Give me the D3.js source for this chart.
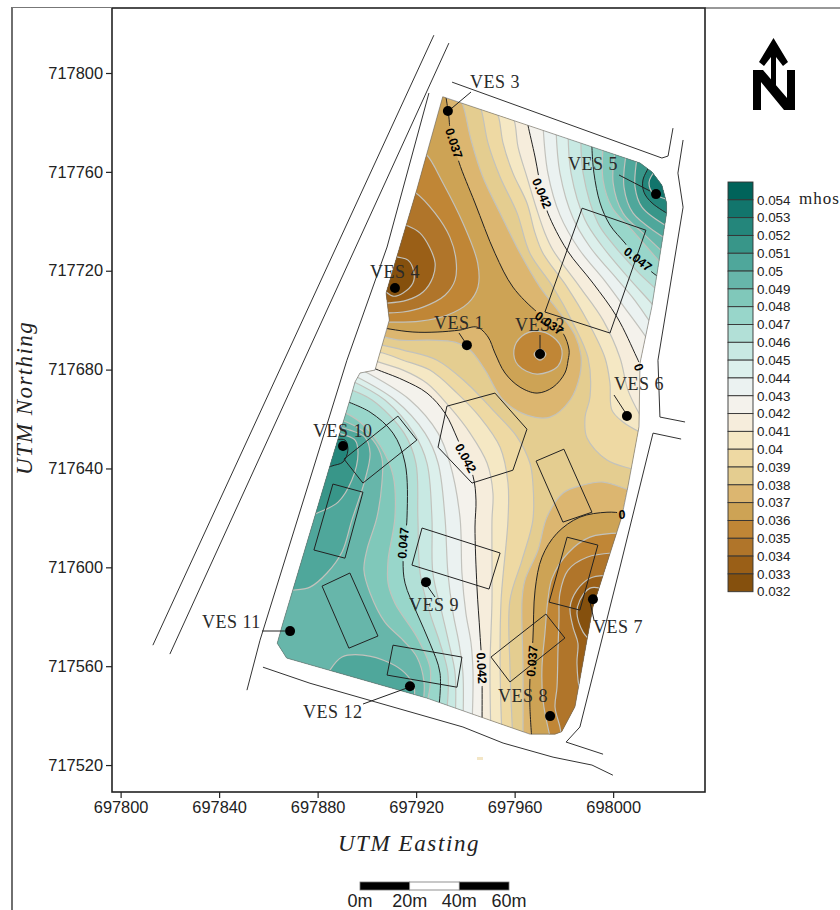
<!DOCTYPE html>
<html>
<head>
<meta charset="utf-8">
<script src="https://cdnjs.cloudflare.com/ajax/libs/d3/7.8.5/d3.min.js"></script>
<style>
  body { margin: 0; background: white; overflow: hidden; }
  svg { display: block; }
  .sans { font-family: "Liberation Sans", Arial, sans-serif; }
  .serif { font-family: "Liberation Serif", serif; }
</style>
</head>
<body>
<div id="chart"></div>
<script>
// all survey points below are metres east / north of these two origins
var E0 = 697800, N0 = 717500;

var xTicks = [697800, 697840, 697880, 697920, 697960, 698000];
var yTicks = [717800, 717760, 717720, 717680, 717640, 717600, 717560, 717520];

// legend, top to bottom
var legendValues = [0.054, 0.053, 0.052, 0.051, 0.05, 0.049, 0.048, 0.047, 0.046, 0.045, 0.044, 0.043,
  0.042, 0.041, 0.04, 0.039, 0.038, 0.037, 0.036, 0.035, 0.034, 0.033, 0.032];
var legendColors = ["#00635a", "#12756c", "#24867b", "#389689", "#4fa79b", "#67b6aa", "#80c8ba", "#98d6ca",
  "#b2e0d7", "#c8e9e3", "#dcf0ec", "#ebf2f1", "#f4f2ec", "#f6eddc", "#f5e8c4", "#eed9a3", "#e4cd90",
  "#dcb670", "#cda355", "#c08636", "#b0752a", "#9a5f17", "#85500d"];

var vesNames = ["VES 1", "VES 2", "VES 3", "VES 4", "VES 5", "VES 6", "VES 7", "VES 8", "VES 9", "VES 10", "VES 11", "VES 12"];
var vesEast = [140.6, 170.3, 132.9, 111.4, 217.4, 205.6, 191.8, 174.4, 124.0, 90.3, 68.8, 117.5];
var vesNorth = [189.9, 186.3, 284.6, 213.0, 251.0, 161.2, 87.1, 39.8, 94.0, 149.1, 74.2, 51.9];

// outline of the gridded area
var boundary = [[130.8,290.4],[210.9,263.6],[215.8,259.9],[219.8,254.6],[221.7,247.4],[221.7,243.3],[215.7,205.4],
  [210.9,182.6],[210.5,156.9],[206.0,132.6],[203.5,120.4],[191.8,84.0],[184.5,43.6],[179.1,33.5],[176.4,32.5],
  [166.2,32.5],[124.3,47.1],[67.4,63.3],[63.6,69.3],[65.9,77.4],[85.7,143.4],[93.1,167.7],[95.2,175.0],
  [97.2,178.6],[103.3,179.8],[109.1,200.0],[107.8,211.0],[120.2,252.6]];

var buildings = [
  [[187.4,245.3],[213.3,236.4],[198.7,194.8],[172.3,203.3]],
  [[132.5,165.2],[152.0,170.5],[165.0,155.9],[159.3,139.3],[142.7,134.1],[128.9,148.6]],
  [[168.7,143.0],[180.0,147.8],[191.4,122.3],[179.6,118.3]],
  [[112.6,161.2],[120.3,151.5],[98.4,134.1],[90.7,143.8]],
  [[86.2,133.7],[98.4,130.4],[91.1,103.7],[78.5,107.0]],
  [[122.4,115.9],[154.1,105.8],[149.6,91.2],[118.3,100.9]],
  [[181.3,112.2],[193.8,109.0],[186.5,82.7],[174.0,85.9]],
  [[172.7,81.1],[180.4,71.4],[158.1,53.6],[150.4,63.7]],
  [[93.1,97.7],[104.5,72.2],[92.7,67.3],[81.8,92.4]],
  [[110.6,68.5],[138.6,63.7],[136.6,51.5],[108.2,56.4]]
];

var roads = [
  [[127.2,315.3],[13.1,68.5]],
  [[133.3,312.1],[20.0,64.9]],
  [[125.2,291.9],[108.2,229.6],[91.9,183.8],[56.6,70.5],[51.3,50.3]],
  [[134.6,296.3],[219.8,265.6],[222.3,266.4],[224.3,277.7]],
  [[228.4,272.9],[226.3,259.5],[228.4,245.7],[218.2,183.8],[219.0,160.8],[229.2,158.8]],
  [[227.6,151.9],[216.2,154.3],[202.8,100.1],[186.5,35.4],[180.9,29.3],[195.9,24.4]],
  [[57.8,59.6],[76.9,53.1],[139.0,35.4],[155.3,28.9],[175.6,23.2],[191.4,20.0],[199.9,15.9]]
];

// contour lines
var c033n = [[109.4,226.3],[112.6,225.5],[116.7,224.3],[119.1,219.4],[118.7,215.0],[114.7,211.0],[110.6,209.7],[107.8,211.4],[104.5,214.2]];
var c034n = [[113.4,238.9],[116.7,238.1],[121.6,235.2],[125.6,229.2],[127.7,223.1],[126.8,217.4],[122.8,211.4],[116.3,208.1],[108.2,206.9],[103.3,206.9]];
var c035n = [[117.5,252.6],[119.5,251.8],[127.7,243.3],[133.7,233.6],[136.2,224.3],[135.8,216.2],[131.7,210.1],[122.8,205.3],[114.7,203.3],[108.2,202.9],[103.3,202.9]];
var c036n = [[121.6,268.0],[124.3,266.8],[130.9,255.5],[139.0,239.3],[145.0,223.1],[145.1,213.4],[141.1,206.9],[132.5,202.0],[121.6,199.6],[109.4,199.2],[104.5,199.2]];
var c037n = [[131.7,293.1],[133.3,282.2],[133.7,278.1],[135.4,271.6],[137.4,263.9],[143.9,247.4],[152.0,227.1],[159.3,213.4],[169.1,203.3],[174.4,199.6],[179.6,194.8],[182.1,187.9],[181.7,183.8],[180.4,178.6],[175.6,172.9],[169.1,170.5],[162.2,172.9],[156.1,178.6],[152.0,186.7],[149.2,193.2],[144.7,197.2],[137.8,196.0],[128.5,195.2],[118.7,195.2],[109.4,196.4],[103.3,197.6]];

var c037s = [[210.9,120.7],[204.0,121.9],[197.5,122.3],[186.5,120.3],[177.2,113.8],[171.1,104.1],[168.3,90.8],[167.4,70.5],[166.2,54.4],[166.2,43.4],[167.0,30.1]];
var c036s = [[203.6,113.8],[190.6,112.2],[181.7,105.8],[175.2,95.6],[173.5,86.8],[172.3,73.4],[171.1,59.6],[171.5,46.3],[174.4,31.3]];
var c035s = [[199.5,105.8],[189.4,104.1],[181.7,98.9],[178.4,89.6],[178.0,78.6],[177.6,66.5],[177.2,51.5],[176.4,43.4],[178.4,35.4],[179.2,30.1]];
var c034s = [[200.3,96.8],[197.5,96.8],[190.6,95.6],[185.3,90.8],[182.5,83.9],[183.7,75.8],[185.7,69.3],[185.3,61.3],[186.5,50.3],[188.6,46.3]];
var c033s = [[194.7,91.6],[190.6,91.6],[186.5,86.7],[185.3,81.5],[187.8,73.8],[190.6,70.5],[192.6,68.5]];

var c036ves2 = [[169.1,195.6],[175.6,193.2],[179.2,187.9],[177.6,181.4],[169.1,178.2],[161.4,181.8],[159.7,187.9],[163.0,193.6]];
var c035ves2 = [[170.3,188.3],[172.7,186.3],[170.3,183.8],[167.9,186.3]];

var c038a = [[137.0,290.7],[139.0,287.0],[142.3,272.9],[147.1,257.9],[154.1,243.3],[162.2,227.1],[170.3,213.4],[178.4,202.9],[184.5,193.9],[186.9,185.9],[186.5,177.8],[182.5,167.7],[174.4,160.8],[165.0,161.6],[155.3,167.7],[148.0,179.8],[141.9,187.9],[135.8,191.1],[125.6,191.9],[113.4,191.9],[105.3,193.6],[101.3,194.4]];
var c038b = [[163.4,30.1],[163.4,59.6],[163.0,86.7],[164.2,94.8],[169.5,107.0],[173.1,120.3],[179.6,130.0],[187.8,133.3],[195.9,134.5],[205.6,131.6],[210.9,130.0]];

var c039e = [[145.1,289.0],[146.7,284.2],[149.2,271.6],[154.1,257.9],[161.0,243.3],[166.2,227.1],[175.6,213.4],[183.7,198.8],[189.8,184.7],[190.6,168.9],[188.6,160.8],[189.4,152.3],[197.5,143.4],[207.7,139.7],[212.9,138.1]];
var c039w = [[101.3,191.1],[104.5,190.3],[114.7,187.9],[128.5,183.8],[140.6,174.5],[151.2,163.6],[161.0,152.7],[166.2,142.2],[167.4,134.1],[167.4,119.1],[163.0,102.9],[158.1,86.7],[158.1,59.6],[159.3,30.1]];
var c040e = [[152.0,285.8],[153.6,281.8],[155.3,271.6],[159.3,259.5],[165.0,247.4],[168.3,235.2],[171.5,227.1],[181.3,213.4],[189.4,200.0],[196.7,184.7],[198.7,174.5],[199.5,163.6],[204.0,158.8],[210.9,154.7]];
var c040w = [[102.1,187.5],[106.5,186.7],[114.7,183.8],[125.6,179.8],[136.6,170.5],[145.9,160.8],[154.1,148.6],[157.3,134.1],[157.3,119.1],[154.5,86.7],[154.1,59.6],[154.9,30.1]];
var c041e = [[158.5,284.2],[160.1,279.7],[161.4,270.0],[165.0,257.9],[168.7,245.7],[172.3,235.2],[175.6,228.3],[186.5,213.4],[195.9,200.0],[202.8,184.7],[206.0,171.7],[210.9,161.6]];
var c041w = [[100.4,184.2],[104.9,183.0],[114.7,179.8],[124.4,174.5],[133.7,164.8],[141.9,154.3],[148.8,142.2],[151.2,130.0],[150.8,119.1],[150.8,86.7],[150.0,59.6],[150.4,30.1]];
var c042e = [[164.6,283.0],[165.4,278.9],[168.3,266.0],[171.1,251.4],[173.5,243.3],[181.3,228.3],[191.8,215.0],[201.6,201.2],[209.7,184.7],[212.9,177.8]];
var c042w = [[101.3,181.4],[103.7,180.2],[114.7,175.8],[124.4,170.5],[131.7,162.4],[137.0,151.5],[143.1,136.9],[144.3,127.2],[143.9,116.3],[144.7,92.0],[145.9,73.4],[146.7,59.2],[146.7,30.1]];

var c043e = [[171.5,279.3],[173.5,259.5],[178.4,242.5],[186.1,228.8],[196.7,215.8],[204.8,204.9],[213.3,193.2],[217.0,187.1]];
var c044e = [[176.8,277.3],[178.4,259.5],[183.7,241.3],[190.6,229.6],[201.6,216.6],[208.1,208.9],[214.5,200.0],[217.8,195.2]];
var c045e = [[181.7,275.7],[182.9,259.5],[188.6,240.5],[195.5,230.0],[206.0,217.4],[216.2,206.1],[219.8,201.6]];
var c046e = [[186.9,274.1],[187.8,259.5],[193.8,239.3],[199.9,230.8],[210.9,218.6],[217.8,212.2],[221.9,208.1]];
var c047e = [[191.4,272.0],[191.4,269.6],[192.2,259.5],[194.7,247.4],[198.7,238.5],[204.8,231.2],[210.1,224.7],[215.8,219.4],[221.5,215.4]];
var c048e = [[195.9,270.0],[195.9,256.7],[199.5,245.7],[207.7,236.4],[221.1,221.1]];
var c049e = [[200.8,268.4],[200.0,255.5],[204.0,243.3],[212.1,235.2],[221.9,225.9]];
var c050e = [[205.2,266.8],[204.4,253.8],[208.1,243.3],[222.3,232.4]];
var c051e = [[209.7,265.6],[208.9,253.8],[211.7,245.7],[222.3,237.7]];
var c052e = [[215.0,262.7],[212.1,256.7],[212.5,251.8],[215.8,247.4],[223.1,242.5]];
var c053e = [[217.8,261.5],[214.6,255.9],[216.2,251.4],[223.1,248.6]];

var c043w = [[98.0,179.8],[117.5,167.7],[128.9,154.3],[133.7,142.2],[137.8,120.3],[138.6,97.7],[140.2,81.5],[142.3,69.3],[143.1,57.2],[142.7,36.2]];
var c044w = [[95.2,177.4],[111.4,167.7],[123.6,154.3],[128.9,142.2],[131.7,120.3],[132.9,97.7],[135.0,81.5],[137.4,69.3],[139.0,57.2],[139.0,36.2]];
var c045w = [[93.1,175.8],[107.3,167.7],[119.1,154.3],[124.4,142.2],[126.4,120.3],[126.8,97.7],[130.5,81.5],[133.3,69.3],[135.8,57.2],[135.8,36.2]];
var c046w = [[91.5,172.5],[102.1,167.7],[115.1,154.3],[119.9,142.2],[120.7,120.3],[121.6,97.7],[125.6,81.5],[129.7,69.3],[132.9,57.2],[132.1,38.2]];
var c047w = [[90.3,167.7],[101.3,162.8],[110.6,154.3],[115.5,142.2],[116.3,120.3],[114.7,102.9],[115.5,93.6],[120.3,81.5],[125.6,69.3],[129.7,57.2],[128.9,40.2]];
var c048w = [[89.1,163.6],[97.2,158.8],[105.3,149.4],[110.6,137.3],[111.4,120.3],[108.6,102.9],[108.6,93.6],[111.4,85.5],[120.3,71.8],[125.6,59.6],[125.6,51.5],[124.0,43.8]];
var c049w = [[87.5,160.4],[96.0,156.7],[102.5,151.5],[106.1,144.2],[106.1,134.1],[104.1,120.3],[100.0,107.0],[98.8,98.9],[101.3,89.6],[107.3,77.8],[114.7,70.5],[120.3,63.7],[123.2,53.6],[122.8,44.7]];
var c050w = [[86.2,157.5],[93.1,155.5],[99.2,152.7],[101.3,146.2],[99.2,135.3],[93.9,119.1],[89.9,106.2],[83.8,97.7],[76.9,92.0],[70.0,90.8],[62.7,90.8]];
var c051w = [[85.8,154.7],[91.1,153.5],[95.2,151.5],[96.4,146.2],[93.9,135.3],[88.3,126.4],[79.7,121.9],[74.9,119.9]];
var c052w = [[86.2,151.5],[91.1,151.5],[92.3,147.4],[90.3,142.6],[85.8,141.0],[81.8,139.3]];
var c050ves12 = [[83.8,56.0],[85.0,58.4],[89.9,63.7],[98.4,64.5],[109.4,61.3],[115.5,57.2],[119.1,51.9],[119.1,45.5]];

// the labels printed on the contours
var contourText = ["0.037", "0.042", "0.047", "0.037", "0.042", "0.047", "0.042", "0.037", "0", "0"];
var contourTextEast = [135.4, 171.1, 210.1, 174.0, 140.2, 114.7, 146.7, 167.0, 203.6, 210.5];
var contourTextNorth = [271.6, 251.4, 224.7, 198.8, 144.2, 109.8, 59.2, 62.1, 121.5, 181.0];
var contourTextAngle = [72, 67, 37, 35, 62, -85, 87, -85, 0, 70];

// page layout, not data
var width = 840, height = 910;
var plot = { left: 112, right: 705, top: 8, bottom: 792 };
var labelSpot = [[434,329],[515,331],[470,88],[370,278],[568,170],[614,390],[593,633],[498,702],[409,611],[313,437],[202,628],[303,718]];
var leaders = [[459,333,465,342],[540,335,540,350],[452,108,471,92],[619,175,650,191],[614,395,625,412],
  [590,602,594,620],[428,587,435,597],[262,631,285,631],[363,704,407,688]];

var svg = d3.select("#chart").append("svg").attr("width", width).attr("height", height);

var x = d3.scaleLinear().domain([697796.5, 698037.3]).range([plot.left, plot.right]);
var y = d3.scaleLinear().domain([717509.1, 717826.3]).range([plot.bottom, plot.top]);
var px = function(p) { return x(E0 + p[0]); };
var py = function(p) { return y(N0 + p[1]); };

var colorOf = d3.scaleOrdinal().domain(legendValues).range(legendColors);

var openLine = d3.line().x(px).y(py).curve(d3.curveCatmullRom);
var closedLine = d3.line().x(px).y(py).curve(d3.curveCatmullRomClosed);
var straight = d3.line().x(px).y(py);

// corners that finish a fill outside the clipped area
var EDGE_E = 235.3, EDGE_W = 52.5, EDGE_S = 5.8, EDGE_N = 300;
function closeNE(l) { return [[EDGE_E, l[l.length - 1][1]], [EDGE_E, EDGE_N], [l[0][0], EDGE_N]]; }
function closeSW(l) { return [[l[l.length - 1][0], EDGE_S], [EDGE_W, EDGE_S], [EDGE_W, l[0][1]]]; }
function closeW(l) { return [[EDGE_W, l[l.length - 1][1]], [EDGE_W, l[0][1]]]; }
function closeNW(l) { return [[97, l[l.length - 1][1]], [97, 295], [l[0][0], 295]]; }
function closeSE(l) { return [[l[l.length - 1][0], 22], [EDGE_E, 22], [EDGE_E, l[0][1]]]; }
function closeS(l) { return [[l[l.length - 1][0], 40], [l[0][0], 40]]; }

function tail(points) {
  return points.map(function(p) { return "L" + px(p) + "," + py(p); }).join("");
}
function fillPath(line, close) {
  return openLine(line) + tail(close(line)) + "Z";
}

var mapArea = svg.append("g");

mapArea.append("clipPath").attr("id", "map-clip")
  .append("path").attr("d", straight(boundary) + "Z");

var bands = mapArea.append("g").attr("clip-path", "url(#map-clip)");

bands.append("path").attr("d", straight(boundary) + "Z").attr("fill", colorOf(0.037));

function addBand(level, line, close) {
  bands.append("path").attr("d", fillPath(line, close)).attr("fill", colorOf(level));
}
function addLoop(level, line) {
  bands.append("path").attr("d", closedLine(line) + "Z").attr("fill", colorOf(level));
}

// low side first, outwards from 0.037
addBand(0.036, c037n, closeNW); addBand(0.036, c037s, closeSE);
addBand(0.035, c036n, closeNW); addBand(0.035, c036s, closeSE); addLoop(0.035, c036ves2);
addBand(0.034, c035n, closeNW); addBand(0.034, c035s, closeSE); addLoop(0.034, c035ves2);
addBand(0.033, c034n, closeNW); addBand(0.033, c034s, closeSE);
addBand(0.032, c033n, closeNW); addBand(0.032, c033s, closeSE);

// 0.038 has two lines that bound one region
bands.append("path")
  .attr("d", openLine(c038a) + tail([[EDGE_W, 194.4], [EDGE_W, EDGE_S], [163.4, EDGE_S]])
    + openLine(c038b).replace("M", "L") + tail([[EDGE_E, 130.0], [EDGE_E, EDGE_N], [137.0, EDGE_N]]) + "Z")
  .attr("fill", colorOf(0.038));

// high side, upwards
addBand(0.039, c039e, closeNE); addBand(0.039, c039w, closeSW);
addBand(0.04, c040e, closeNE); addBand(0.04, c040w, closeSW);
addBand(0.041, c041e, closeNE); addBand(0.041, c041w, closeSW);
addBand(0.042, c042e, closeNE); addBand(0.042, c042w, closeSW);
addBand(0.043, c043e, closeNE); addBand(0.043, c043w, closeSW);
addBand(0.044, c044e, closeNE); addBand(0.044, c044w, closeSW);
addBand(0.045, c045e, closeNE); addBand(0.045, c045w, closeSW);
addBand(0.046, c046e, closeNE); addBand(0.046, c046w, closeSW);
addBand(0.047, c047e, closeNE); addBand(0.047, c047w, closeSW);
addBand(0.048, c048e, closeNE); addBand(0.048, c048w, closeSW);
addBand(0.049, c049e, closeNE); addBand(0.049, c049w, closeSW);
addBand(0.05, c050e, closeNE); addBand(0.05, c050w, closeW); addBand(0.05, c050ves12, closeS);
addBand(0.051, c051e, closeNE); addBand(0.051, c051w, closeW);
addBand(0.052, c052e, closeNE); addBand(0.052, c052w, closeW);
addBand(0.053, c053e, closeNE);

var greyLines = [c033n, c034n, c035n, c036n, c033s, c034s, c035s, c036s, c038a, c038b, c039e, c039w, c040e, c040w,
  c041e, c041w, c043e, c043w, c044e, c044w, c045e, c045w, c046e, c046w, c048e, c048w, c049e, c049w, c050e, c050w,
  c050ves12, c051e, c051w, c053e];
var greyLoops = [c036ves2, c035ves2];
var blackLines = [c037n, c037s, c042e, c042w, c047e, c047w, c052e, c052w];

bands.selectAll(".grey").data(greyLines).enter().append("path")
  .attr("d", openLine).attr("fill", "none").attr("stroke", "#c2c2bc").attr("stroke-width", 1.2);
bands.selectAll(".greyloop").data(greyLoops).enter().append("path")
  .attr("d", function(d) { return closedLine(d) + "Z"; }).attr("fill", "none").attr("stroke", "#c2c2bc").attr("stroke-width", 1.2);

// labels break the black lines
var mask = svg.append("mask").attr("id", "label-gaps").attr("maskUnits", "userSpaceOnUse")
  .attr("x", 0).attr("y", 0).attr("width", width).attr("height", height);
mask.append("rect").attr("width", width).attr("height", height).attr("fill", "white");
contourText.forEach(function(t, i) {
  var w = t.length > 1 ? 36 : 10;
  mask.append("rect")
    .attr("x", -w / 2).attr("y", -6).attr("width", w).attr("height", 12).attr("fill", "black")
    .attr("transform", "translate(" + x(E0 + contourTextEast[i]) + "," + y(N0 + contourTextNorth[i]) + ") rotate(" + contourTextAngle[i] + ")");
});

bands.append("g").attr("mask", "url(#label-gaps)")
  .selectAll("path").data(blackLines).enter().append("path")
  .attr("d", openLine).attr("fill", "none").attr("stroke", "#222").attr("stroke-width", 1);

// boundary, roads, buildings
mapArea.append("path").attr("d", straight(boundary) + "Z").attr("fill", "none").attr("stroke", "#666").attr("stroke-width", 0.6);

mapArea.selectAll(".road").data(roads).enter().append("path")
  .attr("d", straight).attr("fill", "none").attr("stroke", "#333").attr("stroke-width", 1);

mapArea.selectAll(".building").data(buildings).enter().append("path")
  .attr("d", function(d) { return straight(d) + "Z"; }).attr("fill", "none").attr("stroke", "#222").attr("stroke-width", 1);

// small stray patch under the map
svg.append("rect").attr("x", 477).attr("y", 757).attr("width", 6).attr("height", 3).attr("fill", "#f3e6c6");

mapArea.selectAll(".leader").data(leaders).enter().append("line")
  .attr("x1", function(d) { return d[0]; }).attr("y1", function(d) { return d[1]; })
  .attr("x2", function(d) { return d[2]; }).attr("y2", function(d) { return d[3]; })
  .attr("stroke", "#222").attr("stroke-width", 1);

mapArea.selectAll(".ves").data(vesNames).enter().append("circle")
  .attr("cx", function(d, i) { return x(E0 + vesEast[i]); })
  .attr("cy", function(d, i) { return y(N0 + vesNorth[i]); })
  .attr("r", 5).attr("fill", "black");

mapArea.selectAll(".veslabel").data(vesNames).enter().append("text")
  .attr("class", "serif")
  .attr("x", function(d, i) { return labelSpot[i][0]; })
  .attr("y", function(d, i) { return labelSpot[i][1]; })
  .attr("font-size", 18).attr("letter-spacing", 0.5).attr("fill", "#2a2a2a")
  .text(function(d) { return d; });

mapArea.selectAll(".clabel").data(contourText).enter().append("text")
  .attr("class", "sans")
  .attr("transform", function(d, i) {
    return "translate(" + x(E0 + contourTextEast[i]) + "," + y(N0 + contourTextNorth[i]) + ") rotate(" + contourTextAngle[i] + ")";
  })
  .attr("text-anchor", "middle").attr("dy", "0.36em")
  .attr("font-size", 12.5).attr("font-weight", "bold").attr("fill", "black")
  .text(function(d) { return d; });

// frame and axes
svg.append("rect")
  .attr("x", plot.left).attr("y", plot.top)
  .attr("width", plot.right - plot.left).attr("height", plot.bottom - plot.top)
  .attr("fill", "none").attr("stroke", "#222").attr("stroke-width", 1.6);

var xAxis = svg.append("g").attr("transform", "translate(0," + plot.bottom + ")")
  .call(d3.axisBottom(x).tickValues(xTicks).tickSize(6).tickSizeOuter(0).tickFormat(d3.format("d")));
var yAxis = svg.append("g").attr("transform", "translate(" + plot.left + ",0)")
  .call(d3.axisLeft(y).tickValues(yTicks).tickSize(6).tickSizeOuter(0).tickFormat(d3.format("d")));

[xAxis, yAxis].forEach(function(a) {
  a.select(".domain").remove();
  a.selectAll("line").attr("stroke", "#222").attr("stroke-width", 1.2);
  a.selectAll("text").attr("class", "sans").attr("font-size", 16.4).attr("font-family", "Liberation Sans").attr("fill", "#222");
});

svg.append("text").attr("class", "serif")
  .attr("x", 409).attr("y", 851).attr("text-anchor", "middle")
  .attr("font-size", 23).attr("font-style", "italic").attr("letter-spacing", 1.6).attr("fill", "#222")
  .text("UTM Easting");

svg.append("text").attr("class", "serif")
  .attr("transform", "translate(32,398) rotate(-90)").attr("text-anchor", "middle")
  .attr("font-size", 23).attr("font-style", "italic").attr("letter-spacing", 1.4).attr("fill", "#222")
  .text("UTM Northing");

// figure edges outside the frame
svg.append("line").attr("x1", 12).attr("x2", 12).attr("y1", 7).attr("y2", height).attr("stroke", "#333").attr("stroke-width", 1.4);
svg.append("line").attr("x1", 12).attr("x2", plot.left).attr("y1", 7.5).attr("y2", 7.5).attr("stroke", "#777").attr("stroke-width", 1.2);
svg.append("line").attr("x1", plot.right).attr("x2", width).attr("y1", plot.top).attr("y2", plot.top).attr("stroke", "#333").attr("stroke-width", 1.2);

// legend
var legendY = d3.scaleLinear().domain([0.055, 0.032]).range([182, 591.7]);
var legend = svg.append("g");

legend.selectAll("rect").data(legendValues).enter().append("rect")
  .attr("x", 728).attr("width", 25)
  .attr("y", function(d) { return legendY(d + 0.001); })
  .attr("height", function(d) { return legendY(d) - legendY(d + 0.001); })
  .attr("fill", function(d) { return colorOf(d); })
  .attr("stroke", "#333").attr("stroke-width", 0.9);

var legendAxis = svg.append("g").attr("transform", "translate(753,0)")
  .call(d3.axisRight(legendY).tickValues(legendValues).tickSize(0).tickPadding(4).tickFormat(function(d) { return +d.toFixed(3); }));
legendAxis.select(".domain").remove();
legendAxis.selectAll("text").attr("font-size", 13.4).attr("font-family", "Liberation Sans").attr("fill", "#222");

svg.append("text").attr("class", "serif").attr("x", 799).attr("y", 204)
  .attr("font-size", 17).attr("letter-spacing", 1).attr("fill", "#222").text("mhos");

// north arrow
svg.append("path")
  .attr("d", "M773.5,38L788,62L783,66L776,57V92L771,85V57L764,66L759,62Z")
  .attr("fill", "black");
svg.append("path")
  .attr("d", "M753,70H763L787,98V70H795V110H784L761,82V110H753Z")
  .attr("fill", "black");

// scale bar
var scaleStops = [0, 20, 40, 60];
var scaleBar = d3.scaleLinear().domain([0, 60]).range([360, 509]);
svg.selectAll(".bar").data(scaleStops.slice(0, 3)).enter().append("rect")
  .attr("x", function(d) { return scaleBar(d); })
  .attr("width", function(d) { return scaleBar(d + 20) - scaleBar(d); })
  .attr("y", 882).attr("height", 8)
  .attr("fill", function(d, i) { return i === 1 ? "white" : "black"; })
  .attr("stroke", "#777").attr("stroke-width", 0.8);
svg.selectAll(".barlabel").data(scaleStops).enter().append("text")
  .attr("x", function(d) { return scaleBar(d); }).attr("y", 907)
  .attr("text-anchor", "middle").attr("font-family", "Liberation Sans").attr("font-size", 18).attr("fill", "#222")
  .text(function(d) { return d + "m"; });
</script>
</body>
</html>
